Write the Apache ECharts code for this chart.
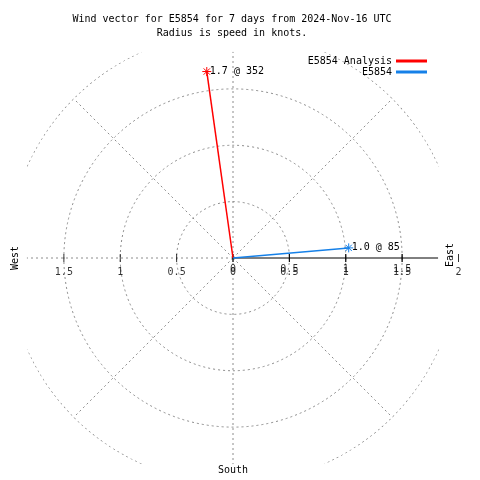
<!DOCTYPE html>
<html><head><meta charset="utf-8">
<script src="https://cdn.jsdelivr.net/npm/echarts@6/dist/echarts.min.js"></script>
<style>html,body{margin:0;padding:0;background:#fff}#c{width:480px;height:480px}</style>
</head><body><div id="c"></div>
<script>
const titleLines = ['Wind vector for E5854 for 7 days from 2024-Nov-16 UTC', 'Radius is speed in knots.'];
const seriesNames = ['E5854 Analysis', 'E5854'];
const speeds = [1.67, 1.03];
const directions = [352, 85];
const colors = ['#ff0000', '#1580e8'];
const rightTickValues = [0, 0.5, 1, 1.5, 2];
const rightTickLabels = ['0', '0.5', '1', '1.5', '2'];
const rightEchoValues = [0, 0.5, 1, 1.5];
const rightEchoLabels = ['0', '0.5', '1', '1.5'];
const leftTickValues = [0.5, 1, 1.5];
const leftTickLabels = ['0.5', '1', '1.5'];
const compassLabels = ['West', 'East', 'South'];

const FONT = 'DejaVu Sans Mono';
const GRID = '#8c8c8c';
const RMAX = 2;
const CLIP = 1.828;
const CENTER = [233, 258];
const RADIUS = 225.5;
const STAR = 'path://M0,5L10,5M5,0L5,10M1.5,1.5L8.5,8.5M8.5,1.5L1.5,8.5';

const series = [];
function spoke(angle, r, color, type) {
  series.push({type: 'line', coordinateSystem: 'polar', polarIndex: 0, silent: true, symbol: 'none',
    data: [[0, angle], [r, angle]], lineStyle: {color: color, width: 1, type: type}, z: 1});
}
[45, 135, 225, 315].forEach(a => spoke(a, RMAX, GRID, [2, 3]));
[0, 180, 270].forEach(a => spoke(a, CLIP, GRID, [2, 3]));
spoke(90, CLIP * 0.995, '#000', 'solid');

// clipped outer ring (r = 2)
[24, 114, 204, 294].forEach(start => {
  const pts = [];
  for (let a = start; a <= start + 42.01; a += 1.5) pts.push([RMAX, a]);
  series.push({type: 'line', coordinateSystem: 'polar', polarIndex: 0, silent: true, symbol: 'none',
    data: pts, lineStyle: {color: '#707070', width: 1.1, type: [2, 3]}, z: 1});
});

const tickLabelStyle = {show: true, position: 'bottom', fontFamily: FONT, fontSize: 10, color: '#000'};
function ticks(values, labels, angle, dist) {
  series.push({type: 'scatter', coordinateSystem: 'polar', polarIndex: 0, silent: true,
    symbol: 'rect', symbolSize: [1, 8], itemStyle: {color: '#000'}, z: 3,
    label: Object.assign({distance: dist}, tickLabelStyle),
    data: values.map((v, i) => ({value: [v, angle], label: {formatter: labels[i]}}))});
}
ticks(rightTickValues, rightTickLabels, 90, 5);
ticks(rightEchoValues, rightEchoLabels, 90, 2);
ticks(leftTickValues, leftTickLabels, 270, 5);

seriesNames.forEach((name, i) => {
  series.push({name: name, type: 'line', coordinateSystem: 'polar', polarIndex: 0, z: 5,
    symbol: STAR, symbolSize: 9, showSymbol: true,
    lineStyle: {color: colors[i], width: 1.5},
    itemStyle: {color: colors[i], borderColor: colors[i], borderWidth: 1},
    data: [
      {value: [0, directions[i]], symbol: 'none'},
      {value: [speeds[i], directions[i]],
       label: {show: true, position: 'right', distance: -2, fontFamily: FONT, fontSize: 10, color: '#000',
               formatter: speeds[i].toFixed(1) + ' @ ' + directions[i]}}
    ]});
});

const chart = echarts.init(document.getElementById('c'), null, {renderer: 'canvas'});
chart.setOption({
  animation: false,
  backgroundColor: '#fff',
  title: {text: titleLines.join('\n'), left: 232, top: 12, textAlign: 'center', padding: 0,
    textStyle: {fontFamily: FONT, fontSize: 10, fontWeight: 'normal', lineHeight: 14, color: '#000'}},
  legend: {data: seriesNames, orient: 'vertical', align: 'right', right: 53, top: 56, padding: 0,
    itemWidth: 29, itemHeight: 1, itemGap: 1, icon: 'rect',
    textStyle: {fontFamily: FONT, fontSize: 10, color: '#000'}},
  polar: [
    {center: CENTER, radius: RADIUS},
    {center: CENTER, radius: RADIUS * 0.75}
  ],
  angleAxis: [
    {polarIndex: 0, type: 'value', min: 0, max: 360, startAngle: 90, clockwise: true,
     axisLine: {show: false}, axisTick: {show: false}, axisLabel: {show: false}, splitLine: {show: false}},
    {polarIndex: 1, type: 'value', min: 0, max: 360, startAngle: 90, clockwise: true,
     axisLine: {show: false}, axisTick: {show: false}, axisLabel: {show: false}, splitLine: {show: false}}
  ],
  radiusAxis: [
    {polarIndex: 0, type: 'value', min: 0, max: RMAX,
     axisLine: {show: false}, axisTick: {show: false}, axisLabel: {show: false}, splitLine: {show: false}},
    {polarIndex: 1, type: 'value', min: 0, max: 1.5, interval: 0.5,
     axisLine: {show: false}, axisTick: {show: false}, axisLabel: {show: false},
     splitLine: {show: true, lineStyle: {color: GRID, width: 1, type: [2, 3]}}}
  ],
  graphic: [
    {type: 'text', x: 15, y: 258, rotation: Math.PI / 2,
     style: {text: compassLabels[0], font: '10px "DejaVu Sans Mono"', fill: '#000', align: 'center', verticalAlign: 'middle'}},
    {type: 'text', x: 450, y: 255, rotation: Math.PI / 2,
     style: {text: compassLabels[1], font: '10px "DejaVu Sans Mono"', fill: '#000', align: 'center', verticalAlign: 'middle'}},
    {type: 'text', x: 233, y: 470,
     style: {text: compassLabels[2], font: '10px "DejaVu Sans Mono"', fill: '#000', align: 'center', verticalAlign: 'middle'}}
  ],
  series: series
});
</script></body></html>
